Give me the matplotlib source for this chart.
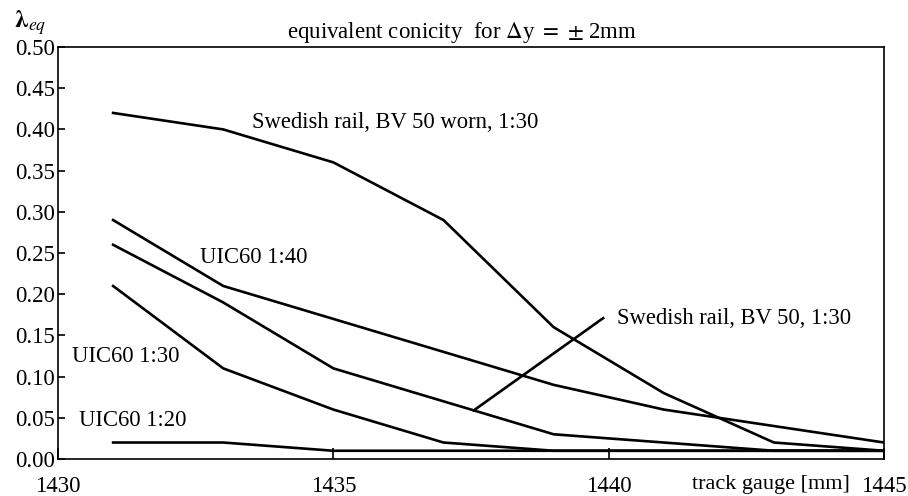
import numpy as np
import matplotlib
matplotlib.use("Agg")
import matplotlib.pyplot as plt

plt.rcParams['font.family'] = ['Liberation Serif', 'DejaVu Serif']
plt.rcParams['mathtext.fontset'] = 'stix'

# track gauge [mm]
gauge = [1431, 1433, 1435, 1437, 1439, 1441, 1443, 1445]

# equivalent conicity per profile
bv50_worn = [0.42, 0.40, 0.36, 0.29, 0.16, 0.08, 0.02, 0.01]
uic60_140 = [0.29, 0.21, 0.17, 0.13, 0.09, 0.06, 0.04, 0.02]
bv50_130 = [0.26, 0.19, 0.11, 0.07, 0.03, 0.02, 0.01, 0.01]
uic60_130 = [0.21, 0.11, 0.06, 0.02, 0.01, 0.01, 0.01, 0.01]
uic60_120 = [0.02, 0.02, 0.01, 0.01, 0.01, 0.01, 0.01, 0.01]

# pointer line for the BV 50 label
pointer_x = [1437.55, 1439.9]
pointer_y = [0.059, 0.171]

xticks = [1430, 1435, 1440, 1445]
yticks = [0.0, 0.05, 0.10, 0.15, 0.20, 0.25, 0.30, 0.35, 0.40, 0.45, 0.50]

fig = plt.figure(figsize=(9.08, 4.96), dpi=100)
ax = fig.add_axes([0.0639, 0.0746, 0.9097, 0.8306])

for ys in [bv50_worn, uic60_140, bv50_130, uic60_130, uic60_120]:
    ax.plot(gauge, ys, color='black', lw=1.9, solid_joinstyle='miter')
ax.plot(pointer_x, pointer_y, color='black', lw=1.9)

ax.set_xlim(1430, 1445)
ax.set_ylim(0, 0.5)
ax.set_xticks(xticks)
ax.set_xticklabels([str(t) for t in xticks])
ax.set_yticks(yticks)
ax.set_yticklabels(['%.2f' % t for t in yticks])
ax.tick_params(axis='both', direction='in', labelsize=16.5, width=1.2)
ax.tick_params(axis='x', length=8, pad=12)
ax.tick_params(axis='y', length=5, pad=2)
for sp in ax.spines.values():
    sp.set_linewidth(1.2)

# curve labels
kw = dict(fontsize=16.3, va='center', ha='left')
ax.text(1433.52, 0.408, 'Swedish rail, BV 50 worn, 1:30', **kw)
ax.text(1432.58, 0.245, 'UIC60 1:40', **kw)
ax.text(1430.25, 0.124, 'UIC60 1:30', **kw)
ax.text(1430.38, 0.047, 'UIC60 1:20', **kw)
ax.text(1440.15, 0.171, 'Swedish rail, BV 50, 1:30', **kw)

ax.text((462 - 58) / 826, 1.005, r'equivalent conicity  for $\Delta$y $=$ $\pm$ 2mm',
        transform=ax.transAxes, ha='center', va='bottom', fontsize=16.5)
fig.text(14 / 908, 1 - 23 / 496, r'$\mathbf{\lambda}_{\mathbf{\mathit{eq}}}$', fontsize=18,
         ha='left', va='center')
fig.text(850 / 908, 1 - 484 / 496, 'track gauge [mm]', fontsize=16,
         ha='right', va='center')

fig.savefig('out.png', dpi=100)
